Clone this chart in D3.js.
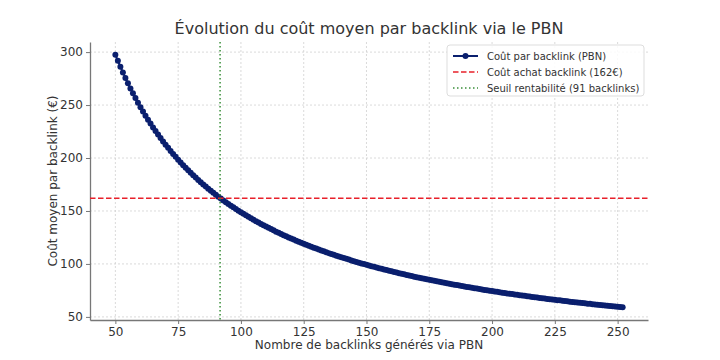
<!DOCTYPE html>
<html><head><meta charset="utf-8">
<script src="https://cdn.jsdelivr.net/npm/d3@7"></script>
<style>body{margin:0;background:#fff}svg{font-family:"DejaVu Sans",sans-serif}</style>
</head><body><svg id="c" width="720" height="360"></svg>
<script>
const backlinks = d3.range(50, 253);
const costPerBacklink = [297.6,291.8,286.2,280.8,275.6,270.5,265.7,261.1,256.6,252.2,
248.0,243.9,240.0,236.2,232.5,228.9,225.5,222.1,218.8,215.7,
212.6,209.6,206.7,203.8,201.1,198.4,195.8,193.2,190.8,188.4,
186.0,183.7,181.5,179.3,177.1,175.1,173.0,171.0,169.1,167.2,
165.3,163.5,161.7,160.0,158.3,156.6,155.0,153.4,151.8,150.3,
148.8,147.3,145.9,144.5,143.1,141.7,140.4,139.1,137.8,136.5,
135.3,134.1,132.9,131.7,130.5,129.4,128.3,127.2,126.1,125.0,
124.0,123.0,122.0,121.0,120.0,119.0,118.1,117.2,116.3,115.3,
114.5,113.6,112.7,111.9,111.0,110.2,109.4,108.6,107.8,107.1,
106.3,105.5,104.8,104.1,103.3,102.6,101.9,101.2,100.5,99.9,
99.2,98.5,97.9,97.3,96.6,96.0,95.4,94.8,94.2,93.6,
93.0,92.4,91.9,91.3,90.7,90.2,89.6,89.1,88.6,88.0,
87.5,87.0,86.5,86.0,85.5,85.0,84.5,84.1,83.6,83.1,
82.7,82.2,81.8,81.3,80.9,80.4,80.0,79.6,79.1,78.7,
78.3,77.9,77.5,77.1,76.7,76.3,75.9,75.5,75.2,74.8,
74.4,74.0,73.7,73.3,72.9,72.6,72.2,71.9,71.5,71.2,
70.9,70.5,70.2,69.9,69.5,69.2,68.9,68.6,68.3,67.9,
67.6,67.3,67.0,66.7,66.4,66.1,65.8,65.6,65.3,65.0,
64.7,64.4,64.1,63.9,63.6,63.3,63.1,62.8,62.5,62.3,
62.0,61.7,61.5,61.2,61.0,60.7,60.5,60.2,60.0,59.8,
59.5,59.3,59.0];
const purchaseCost = 162;
const breakEven = 91.7;
const xTicks = [50,75,100,125,150,175,200,225,250];
const yTicks = [50,100,150,200,250,300];
const title = "Évolution du coût moyen par backlink via le PBN";
const xLabel = "Nombre de backlinks générés via PBN";
const yLabel = "Coût moyen par backlink (€)";
const legendLabels = ["Coût par backlink (PBN)","Coût achat backlink (162€)","Seuil rentabilité (91 backlinks)"];

const data = backlinks.map((x,i)=>({x, y: costPerBacklink[i]}));
const svg = d3.select("#c");
const L=90, R=648, T=42, B=320;
const xmin=d3.min(backlinks), xmax=d3.max(backlinks), xm=(xmax-xmin)*0.05;
const ymin=d3.min(costPerBacklink), ymax=d3.max(costPerBacklink), ym=(ymax-ymin)*0.05;
const x=d3.scaleLinear().domain([xmin-xm,xmax+xm]).range([L,R]);
const y=d3.scaleLinear().domain([ymin-ym,ymax+ym]).range([B,T]);

const grid=svg.append("g");
xTicks.forEach(t=>grid.append("line").attr("x1",x(t)).attr("x2",x(t)).attr("y1",T).attr("y2",B)
  .attr("stroke","#d0d0d0").attr("stroke-width",0.8).attr("stroke-dasharray","2,2"));
yTicks.forEach(t=>grid.append("line").attr("x1",L).attr("x2",R).attr("y1",y(t)).attr("y2",y(t))
  .attr("stroke","#d0d0d0").attr("stroke-width",0.8).attr("stroke-dasharray","2,2"));

const xa=svg.append("g").attr("transform",`translate(0,${B})`)
  .call(d3.axisBottom(x).tickValues(xTicks).tickSize(4).tickPadding(3).tickSizeOuter(0));
const ya=svg.append("g").attr("transform",`translate(${L},0)`)
  .call(d3.axisLeft(y).tickValues(yTicks).tickSize(4).tickPadding(3).tickSizeOuter(0));
[xa,ya].forEach(a=>{
  a.select(".domain").attr("stroke","#777").attr("stroke-width",1.3);
  a.selectAll(".tick line").attr("stroke","#777");
  a.selectAll("text").attr("fill","#333").style("font-size","12px").style("font-family","DejaVu Sans");
});

const line=d3.line().x(d=>x(d.x)).y(d=>y(d.y));
svg.append("path").datum(data).attr("d",line).attr("fill","none").attr("stroke","#0a1f6e").attr("stroke-width",2);
svg.append("g").selectAll("circle").data(data).join("circle")
  .attr("cx",d=>x(d.x)).attr("cy",d=>y(d.y)).attr("r",3).attr("fill","#0a1f6e");

svg.append("line").attr("x1",L).attr("x2",R).attr("y1",y(purchaseCost)).attr("y2",y(purchaseCost))
  .attr("stroke","#e8202a").attr("stroke-width",1.5).attr("stroke-dasharray","5.5,2.5");
svg.append("line").attr("x1",x(breakEven)).attr("x2",x(breakEven)).attr("y1",T).attr("y2",B)
  .attr("stroke","#3a8f3a").attr("stroke-width",1.5).attr("stroke-dasharray","1.5,2.5");

svg.append("text").attr("x",(L+R)/2).attr("y",34).attr("text-anchor","middle")
  .attr("fill","#333").style("font-size","16px").text(title);
svg.append("text").attr("x",(L+R)/2).attr("y",349).attr("text-anchor","middle")
  .attr("fill","#333").style("font-size","12px").text(xLabel);
svg.append("text").attr("transform",`translate(57,${(T+B)/2}) rotate(-90)`).attr("text-anchor","middle")
  .attr("fill","#333").style("font-size","12px").text(yLabel);

const lg=svg.append("g");
lg.append("rect").attr("x",447).attr("y",45).attr("width",197).attr("height",51).attr("rx",3)
  .attr("fill","#fff").attr("fill-opacity",0.85).attr("stroke","#ddd");
const ly=[56,72,88];
lg.append("line").attr("x1",453).attr("x2",478).attr("y1",ly[0]).attr("y2",ly[0]).attr("stroke","#0a1f6e").attr("stroke-width",2);
lg.append("circle").attr("cx",465.5).attr("cy",ly[0]).attr("r",3).attr("fill","#0a1f6e");
lg.append("line").attr("x1",453).attr("x2",478).attr("y1",ly[1]).attr("y2",ly[1]).attr("stroke","#e8202a").attr("stroke-width",1.5).attr("stroke-dasharray","5.5,2.5");
lg.append("line").attr("x1",453).attr("x2",478).attr("y1",ly[2]).attr("y2",ly[2]).attr("stroke","#3a8f3a").attr("stroke-width",1.5).attr("stroke-dasharray","1.5,2.5");
legendLabels.forEach((t,i)=>lg.append("text").attr("x",487).attr("y",ly[i]+4).attr("fill","#333")
  .style("font-size","10px").text(t));
</script></body></html>
